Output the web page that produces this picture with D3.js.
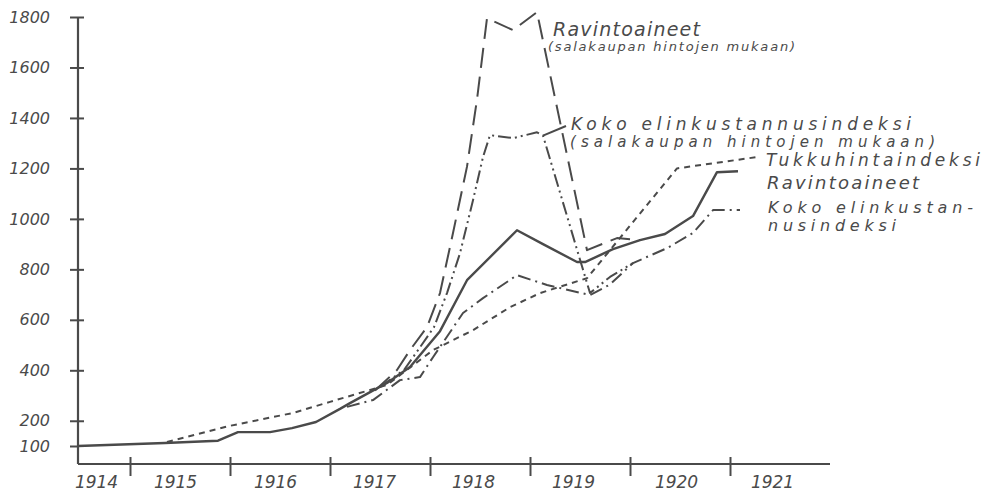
<!DOCTYPE html>
<html><head><meta charset="utf-8">
<script src="https://cdn.jsdelivr.net/npm/d3@7"></script>
<style>
html,body{margin:0;padding:0;background:#fff;}
svg{display:block;}
text{font-family:"DejaVu Sans",sans-serif;font-style:oblique;fill:#4a4a4a;}
</style></head><body>
<svg id="chart" width="992" height="497"></svg>
<script>
// ---- data ----
const yTickValues = [100, 200, 400, 600, 800, 1000, 1200, 1400, 1600, 1800];
const yearTicks = [1915, 1916, 1917, 1918, 1919, 1920, 1921];
const yearLabels = ["1914", "1915", "1916", "1917", "1918", "1919", "1920", "1921"];
const yearLabelPos = [1914.66, 1915.45, 1916.45, 1917.44, 1918.43, 1919.43, 1920.46, 1921.42];

// Ravintoaineet (solid)
const ravintoaineet = [[1914.48,100],[1915.35,112],[1915.88,121],[1916.08,155],[1916.4,155],[1916.62,171],[1916.86,195],[1917.1,247],[1917.2,270],[1917.57,350],[1917.8,413],[1918.1,555],[1918.37,757],[1918.87,955],[1919.13,900],[1919.47,829],[1919.55,829],[1919.83,880],[1920.1,916],[1920.35,940],[1920.63,1011],[1920.87,1185],[1921.08,1189]];
// Tukkuhintaindeksi (short dashes)
const tukku = [[1915.37,116],[1916.0,180],[1916.63,231],[1917.0,275],[1917.57,342],[1918.03,480],[1918.43,559],[1918.8,650],[1919.1,706],[1919.57,765],[1920.47,1200],[1921.27,1245]];
// Koko elinkustannusindeksi (dash-dot)
const koko = [[1917.17,255],[1917.43,282],[1917.7,361],[1917.9,373],[1918.03,452],[1918.13,510],[1918.33,627],[1918.53,686],[1918.87,777],[1919.17,738],[1919.6,698],[1919.8,740],[1920.03,825],[1920.37,884],[1920.63,944],[1920.83,1035],[1921.1,1035]];
// Ravintoaineet, salakaupan hintojen mukaan (long dashes)
const ravSala = [[1917.45,320],[1917.67,401],[1917.8,480],[1917.97,571],[1918.1,706],[1918.23,944],[1918.37,1207],[1918.47,1473],[1918.57,1795],[1918.83,1748],[1919.07,1819],[1919.57,876],[1919.87,924],[1920.1,916]];
// Koko elinkustannusindeksi, salakaupan hintojen mukaan (dash-dot-dot)
const kokoSala = [[1917.5,335],[1917.74,401],[1917.88,480],[1918.04,571],[1918.17,706],[1918.3,864],[1918.43,1074],[1918.53,1245],[1918.6,1332],[1918.83,1320],[1919.07,1343],[1919.13,1330],[1919.6,706],[1919.8,770],[1920.03,825]];

// ---- drawing ----
const svg = d3.select("#chart");
const ink = "#4a4a4a";
const x = d3.scaleLinear().domain([1914.48, 1922]).range([78, 830]);
const y = d3.scaleLinear().domain([100, 1800]).range([446, 17]);
const axisY = 464;

// y axis
const yAxis = d3.axisLeft(y).tickValues(yTickValues).tickSize(8).tickPadding(20).tickFormat(d => d);
const gy = svg.append("g").attr("transform", `translate(${x(1914.48)},0)`).call(yAxis);
gy.select(".domain").remove();
gy.selectAll(".tick line").attr("x2", d => d === 100 ? 0 : 6).attr("x1", -8).attr("stroke", ink).attr("stroke-width", 2);
gy.selectAll(".tick text").attr("font-size", 16).attr("fill", ink).style("font-family", "'DejaVu Sans',sans-serif").style("font-style", "oblique");
svg.append("line").attr("x1", x(1914.48)).attr("x2", x(1914.48)).attr("y1", y(1800)).attr("y2", axisY)
  .attr("stroke", ink).attr("stroke-width", 2.2);

// x axis
const xAxis = d3.axisBottom(x).tickValues(yearTicks).tickSize(12).tickFormat("");
const gx = svg.append("g").attr("transform", `translate(0,${axisY})`).call(xAxis);
gx.select(".domain").remove();
gx.selectAll(".tick line").attr("y1", -7).attr("stroke", ink).attr("stroke-width", 2);
svg.append("line").attr("x1", x(1914.48)).attr("x2", x(1922)).attr("y1", axisY).attr("y2", axisY)
  .attr("stroke", ink).attr("stroke-width", 2.2);
const xLab = d3.axisBottom(x).tickValues(yearLabelPos).tickSize(0).tickPadding(12)
  .tickFormat((d, i) => yearLabels[i]);
const gxl = svg.append("g").attr("transform", `translate(0,${axisY})`).call(xLab);
gxl.select(".domain").remove();
gxl.selectAll(".tick text").attr("font-size", 17).attr("fill", ink).style("font-family", "'DejaVu Sans',sans-serif").style("font-style", "oblique");

// lines
const line = d3.line().x(d => x(d[0])).y(d => y(d[1]));
const series = [
  {data: tukku, dash: "6,5", w: 2},
  {data: koko, dash: "13,5,2,5", w: 2},
  {data: ravSala, dash: "20,9", w: 2},
  {data: kokoSala, dash: "13,4,2,4,2,4", w: 2},
  {data: ravintoaineet, dash: null, w: 2.4}
];
series.forEach(s => {
  svg.append("path").datum(s.data).attr("d", line).attr("fill", "none")
    .attr("stroke", ink).attr("stroke-width", s.w)
    .attr("stroke-linejoin", "round")
    .attr("stroke-dasharray", s.dash);
});

// leader line to the Koko (salakauppa) label
svg.append("line").attr("x1", x(1919.13)).attr("y1", y(1330)).attr("x2", 566).attr("y2", 126)
  .attr("stroke", ink).attr("stroke-width", 2);

// annotations
const notes = [
  {t: "Ravintoaineet", x: 553, y: 36, s: 19, w: 147},
  {t: "(salakaupan hintojen mukaan)", x: 548, y: 51, s: 13, w: 247},
  {t: "Koko elinkustannusindeksi", x: 571, y: 130, s: 17, w: 340},
  {t: "(salakaupan hintojen mukaan)", x: 570, y: 147, s: 15, w: 365},
  {t: "Tukkuhintaindeksi", x: 766, y: 166, s: 17, w: 214},
  {t: "Ravintoaineet", x: 767, y: 189, s: 18, w: 152},
  {t: "Koko elinkustan-", x: 768, y: 213, s: 16, w: 205},
  {t: "nusindeksi", x: 768, y: 231, s: 16, w: 128}
];
svg.selectAll("text.note").data(notes).enter().append("text")
  .attr("class", "note")
  .attr("x", d => d.x).attr("y", d => d.y)
  .attr("font-size", d => d.s)
  .attr("textLength", d => d.w).attr("lengthAdjust", "spacing")
  .text(d => d.t);
</script>
</body></html>
